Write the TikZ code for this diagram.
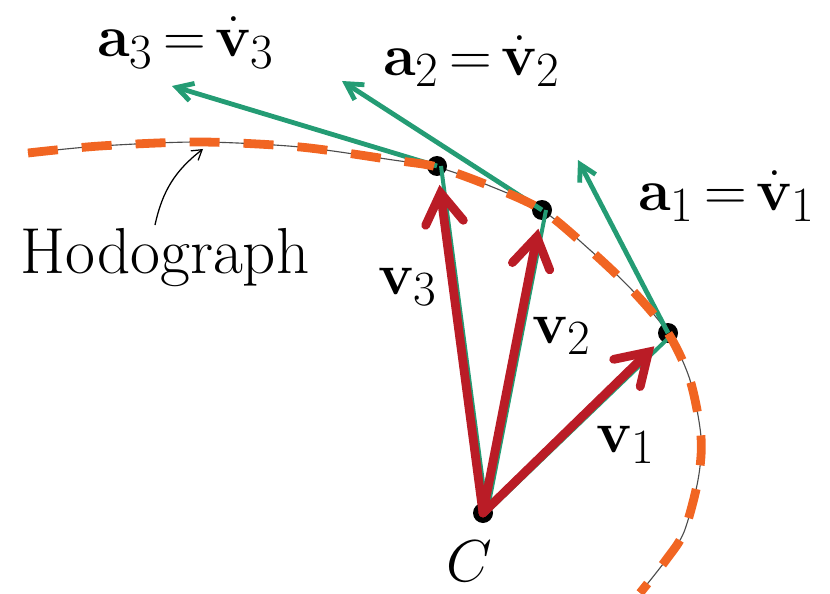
\documentclass[tikz,border=0pt]{standalone}
\usepackage{amsmath}
\usetikzlibrary{arrows.meta, calc}
\definecolor{HodoOrange}{RGB}{241,101,34}
\definecolor{VelRed}{RGB}{186,28,38}
\definecolor{AccGreen}{RGB}{36,156,116}
\newcommand{\hodocurve}{plot[smooth] coordinates {(0.7,11.0) (2.5,11.175)
  (5.0,11.275) (7.5,11.15) (9.825,10.825) (10.925,10.65) (12.25,10.175)
  (13.55,9.575) (14.75,8.575) (15.8,7.575) (16.7,6.5) (17.25,5.325)
  (17.525,3.9) (17.45,2.825) (17.1,1.525) (16.65,0.825) (16.0,0.0)}}

\begin{document}
\begin{tikzpicture}[
    pt/.style={circle, fill=black, inner sep=0pt, minimum size=0.5cm},
    lbl/.style={font=\Huge, scale=1.69, inner sep=0pt},
    vel/.style={VelRed, line width=0.22cm, line cap=round,
                -{Straight Barb[length=0.75cm, width=0.95cm, line cap=round]},
                shorten >=0.22cm},
    acc/.style={AccGreen, line width=0.12cm,
                -{Straight Barb[length=0.4cm, width=0.45cm]}},
    trace/.style={AccGreen, line width=0.1cm}
  ]
  \useasboundingbox (0,0) rectangle (20.75,14.825);

  % Hodograph (thin line under the dashes)
  \draw[black!70, line width=0.8pt] \hodocurve;

  % Points
  \node[pt] (C)  at (12.075, 2.0) {};
  \node[pt] (p1) at (16.7, 6.5) {};
  \node[pt] (p2) at (13.55, 9.575) {};
  \node[pt] (p3) at (10.925, 10.675) {};

  % Acceleration tips
  \coordinate (t1) at (14.45, 10.825);
  \coordinate (t2) at (8.55, 12.8);
  \coordinate (t3) at (4.3, 12.675);

  % Green traces and tangents
  \draw[trace] ([xshift=0.08cm]C.center) -- ([xshift=0.08cm, yshift=-0.06cm]p1.center);
  \draw[trace] ([xshift=0.1cm]C.center) -- ([xshift=0.1cm]p2.center);
  \draw[trace] ([xshift=0.1cm]C.center) -- ([xshift=0.1cm]p3.center);
  \draw[acc] (p1.center) -- (t1);
  \draw[acc] (p2.center) -- (t2);
  \draw[acc] (p3.center) -- (t3);

  % Dashed hodograph
  \draw[HodoOrange, line width=0.22cm, dash pattern=on 0.75cm off 0.6cm] \hodocurve;

  % Velocity vectors
  \draw[vel] (C.center) -- (p1);
  \draw[vel] (C.center) -- (p2);
  \draw[vel] (C.center) -- (p3);

  % Labels
  \node[lbl] (la3) at (4.65, 13.76) {$\mathbf{a}_3\,{=}\,\dot{\mathbf{v}}_3$};
  \node[lbl] (la2) at (11.8, 13.3) {$\mathbf{a}_2\,{=}\,\dot{\mathbf{v}}_2$};
  \node[lbl] (la1) at (18.175, 9.925) {$\mathbf{a}_1\,{=}\,\dot{\mathbf{v}}_1$};
  \node[lbl] (lv3) at (10.2, 7.65) {$\mathbf{v}_3$};
  \node[lbl] (lv2) at (14.05, 6.425) {$\mathbf{v}_2$};
  \node[lbl] (lv1) at (15.65, 3.7) {$\mathbf{v}_1$};
  \node[lbl] (lC) at (11.725, 0.8) {$C$};
  \node[lbl, scale=1.1] (hodo) at (4.125, 8.375) {Hodograph};

  % Pointer to the curve
  \coordinate (hs) at (3.875, 9.2);
  \coordinate (he) at (5.075, 11.1);
  \draw[black, line width=0.9pt, -{Straight Barb[length=0.24cm, width=0.3cm]}]
    (hs) to[bend left=20] (he);
\end{tikzpicture}
\end{document}
